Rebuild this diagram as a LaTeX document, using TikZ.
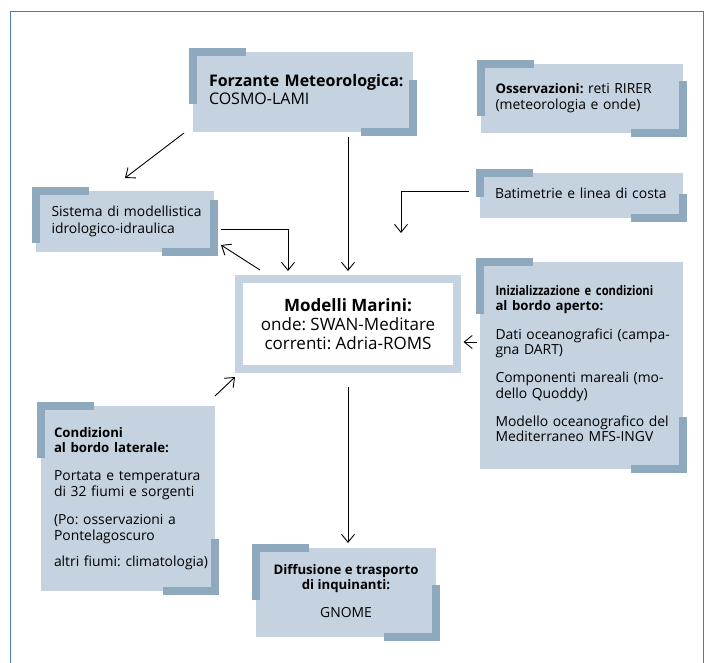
\documentclass[tikz,border=0pt]{standalone}
\usepackage{fontspec}
\setmainfont{Open Sans}
\usetikzlibrary{arrows.meta}
\definecolor{boxfill}{HTML}{C5D3E0}
\definecolor{edgeblue}{HTML}{8EA8BE}
\definecolor{framecol}{HTML}{4A7FA5}
\frenchspacing
% bold headings in the small boxes
\newcommand{\bhead}[1]{{\fontsize{13.2}{15.5}\selectfont\bfseries #1}}
% lines of a box, kept as typed
\newcommand{\lines}[1]{\noindent\begin{tabular}{@{}l@{}}#1\end{tabular}}
\newcommand{\clines}[1]{\begin{tabular}{@{}c@{}}#1\end{tabular}}
% dark L-shaped bars on the top left and bottom right of a box
\newcommand{\corners}[2][52]{%
  \draw[edgebar] ([yshift=-#1pt]#2.north west) -- (#2.north west) -- ([xshift=53pt]#2.north west);
  \draw[edgebar] ([xshift=-52pt]#2.south east) -- (#2.south east) -- ([yshift=#1pt]#2.south east);}
\begin{document}
\begin{tikzpicture}[x=1pt, y=-1pt,
  box/.style={fill=boxfill, outer sep=0pt, inner sep=0pt,
    font=\fontsize{13.9}{15.5}\selectfont},
  mainbox/.style={fill=white, draw=boxfill, line width=8pt, align=center,
    minimum width=218pt, minimum height=90pt, font=\fontsize{17}{19}\selectfont},
  edgebar/.style={draw=edgeblue, line width=8pt, line join=miter},
  arr/.style={-{Straight Barb[length=8pt,width=13pt]}, line width=0.9pt}]
\useasboundingbox (0,0) rectangle (714,663);
\draw[framecol, line width=1.2pt] (10.5,663) -- (10.5,11.5) -- (703.5,11.5) -- (703.5,663);

\node[box, minimum width=220pt, minimum height=80pt, text width=188pt,
  font=\fontsize{16}{18.5}\selectfont] (forz) at (303,92)
  {\lines{\textbf{Forzante Meteorologica:}\\COSMO-LAMI}};
\node[box, minimum width=202pt, minimum height=69pt, text width=173pt] (oss) at (582,98.5)
  {\lines{\bhead{Osservazioni:} reti RIRER\\(meteorologia e onde)}};
\node[box, minimum width=203pt, minimum height=45pt, text width=173pt] (bat) at (581.5,195.5)
  {\lines{Batimetrie e linea di costa}};
\node[box, minimum width=178pt, minimum height=61pt, text width=147pt] (sist) at (125,221.5)
  {\lines{Sistema di modellistica\\[1.5pt]idrologico-idraulica}};
\node[mainbox] (mod) at (348,324)
  {\textbf{Modelli Marini:}\\onde: SWAN-Meditare\\correnti: Adria-ROMS};
\node[box, minimum width=203pt, minimum height=207pt, text width=172pt] (init) at (581.5,365.5)
  {\lines{\bhead{\addfontfeatures{FakeStretch=0.85}Inizializzazione e condizioni}\\
   \bhead{al bordo aperto:}\\[13pt]
   Dati oceanografici (campa-\\gna DART)\\[12.5pt]
   Componenti mareali (mo-\\dello Quoddy)\\[12.5pt]
   Modello oceanografico del\\Mediterraneo MFS-INGV}};
\node[box, minimum width=174pt, minimum height=185pt, text width=148pt] (cond) at (128,498.5)
  {\lines{\bhead{Condizioni}\\\bhead{al bordo laterale:}\\[12.5pt]
   Portata e temperatura\\di 32 fiumi e sorgenti\\[13pt]
   (Po: osservazioni a\\Pontelagoscuro\\[10.5pt]
   altri fiumi: climatologia)}};
\node[box, minimum width=180pt, minimum height=89pt] (diff) at (346,592.5)
  {\clines{\bhead{Diffusione e trasporto}\\\bhead{di inquinanti:}\\[12pt]GNOME}};

\corners{forz}
\corners{oss}
\corners[24]{bat}
\corners{sist}
\corners{init}
\corners{cond}
\corners{diff}

\coordinate (batend) at (401,233);
\draw[arr] ([xshift=-9pt,yshift=-1pt]forz.south west) -- ([yshift=13pt]sist.north);
\draw[arr] ([yshift=-5pt]forz.south -| mod.north) -- ([yshift=4pt]mod.north);
\draw[arr] ([xshift=-11pt,yshift=4.5pt]bat.west) -| (batend);
\draw[arr] ([xshift=7pt,yshift=-7.5pt]sist.east) -| ([xshift=-60pt,yshift=4pt]mod.north);
\draw[arr] ([xshift=25pt,yshift=5pt]mod.north west) -- ([xshift=7pt,yshift=7pt]sist.south east);
\draw[arr] ([xshift=-3pt,yshift=23.5pt]init.west) -- ([xshift=2.5pt,yshift=23.5pt]init.west -| mod.east);
\draw[arr] ([yshift=10pt]cond.north east) -- ([yshift=-4pt]mod.south west);
\draw[arr] ([yshift=-14pt]mod.south) -- ([yshift=5pt]mod.south |- diff.north);
\end{tikzpicture}
\end{document}
